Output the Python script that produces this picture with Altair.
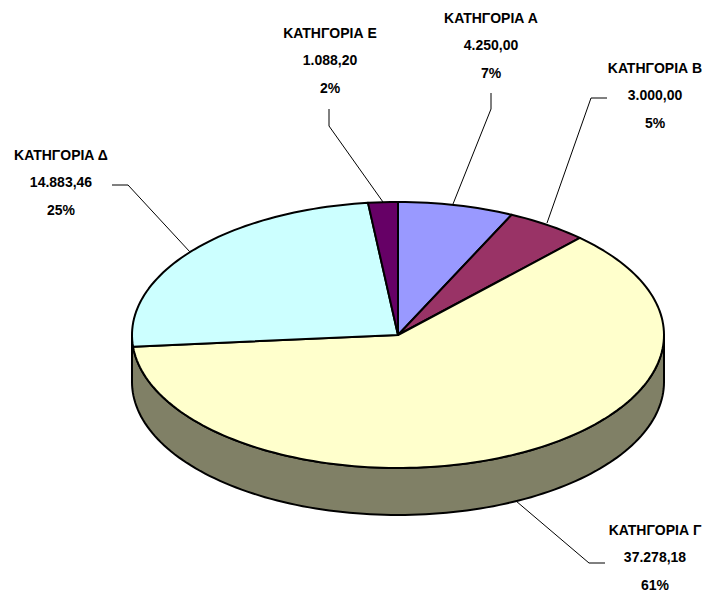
import math
import altair as alt
import pandas as pd

categories = ["ΚΑΤΗΓΟΡΙΑ Α", "ΚΑΤΗΓΟΡΙΑ Β", "ΚΑΤΗΓΟΡΙΑ Γ", "ΚΑΤΗΓΟΡΙΑ Δ", "ΚΑΤΗΓΟΡΙΑ Ε"]
values = [4250.00, 3000.00, 37278.18, 14883.46, 1088.20]
value_labels = ["4.250,00", "3.000,00", "37.278,18", "14.883,46", "1.088,20"]
percent_labels = ["7%", "5%", "61%", "25%", "2%"]
colors = ["#9999FF", "#993366", "#FFFFCC", "#CCFFFF", "#660066"]
SIDE = "#808066"

# Layout of the tilted pie, in picture pixels
CX, CY, RX, RY, DEPTH = 398, 335, 266, 133, 47
W, H = 712, 595
FONT = "Liberation Sans"

# Label anchors and leader-line bends
label_pos = {0: (491, 19), 1: (655, 69), 2: (655, 531), 3: (61, 156), 4: (330, 34)}
leaders = {
    0: [(453, 204), (491, 109), (491, 93)],
    1: [(547, 223), (591, 98), (607, 98)],
    2: [(516, 501), (589, 563), (605, 563)],
    3: [(190, 252), (128, 185), (112, 185)],
    4: [(383, 202), (329, 126), (329, 109)],
}


def rim(deg, drop=0):
    a = math.radians(deg)
    return CX + RX * math.sin(a), CY - RY * math.cos(a) + drop


total = sum(values)
rows, start = [], 0.0
for i, v in enumerate(values):
    end = start + v / total * 360
    pts = [(CX, CY)]
    n = max(2, int((end - start) / 1.5))
    pts += [rim(start + (end - start) * k / n) for k in range(n + 1)]
    for k, (x, y) in enumerate(pts):
        rows.append({"cat": categories[i], "x": x, "y": y, "k": k})
    start = end
wedges = pd.DataFrame(rows)

side_pts = [rim(90 + k * 1.5) for k in range(121)] + [rim(270 - k * 1.5, DEPTH) for k in range(121)]
side = pd.DataFrame([{"x": x, "y": y, "k": k} for k, (x, y) in enumerate(side_pts)])

lead = pd.DataFrame([
    {"cat": categories[i], "x": x, "y": y, "k": k}
    for i, pts in leaders.items() for k, (x, y) in enumerate(pts)
])

text_rows = []
for i, cat in enumerate(categories):
    lx, ly = label_pos[i]
    for j, t in enumerate([cat, value_labels[i], percent_labels[i]]):
        text_rows.append({"t": t, "x": lx, "y": ly + j * 27.3})
texts = pd.DataFrame(text_rows)

xs = alt.Scale(domain=[8, W - 8], nice=False, zero=False)
ys = alt.Scale(domain=[H - 2, 8], nice=False, zero=False)
X = alt.X("x:Q", scale=xs, axis=None)
Y = alt.Y("y:Q", scale=ys, axis=None)

side_layer = alt.Chart(side).mark_line(
    interpolate="linear-closed", fill=SIDE, stroke="black", strokeWidth=2
).encode(x=X, y=Y, order="k:Q")

wedge_layer = alt.Chart(wedges).mark_line(
    interpolate="linear-closed", stroke="black", strokeWidth=2, strokeJoin="round"
).encode(
    x=X, y=Y, order="k:Q", detail="cat:N",
    fill=alt.Fill("cat:N", scale=alt.Scale(domain=categories, range=colors), legend=None),
)

lead_layer = alt.Chart(lead).mark_line(stroke="black", strokeWidth=1).encode(
    x=X, y=Y, order="k:Q", detail="cat:N"
)

text_layer = alt.Chart(texts).mark_text(
    font=FONT, fontWeight="bold", fontSize=14, align="center", baseline="middle", color="black"
).encode(x=X, y=Y, text="t:N")

chart = (side_layer + wedge_layer + lead_layer + text_layer).properties(
    width=W - 16, height=H - 10, padding=0, background="white",
    autosize=alt.AutoSizeParams(type="none")
).configure_view(stroke=None)

chart.save("out.html", embed_options={"renderer": "svg", "actions": False})
